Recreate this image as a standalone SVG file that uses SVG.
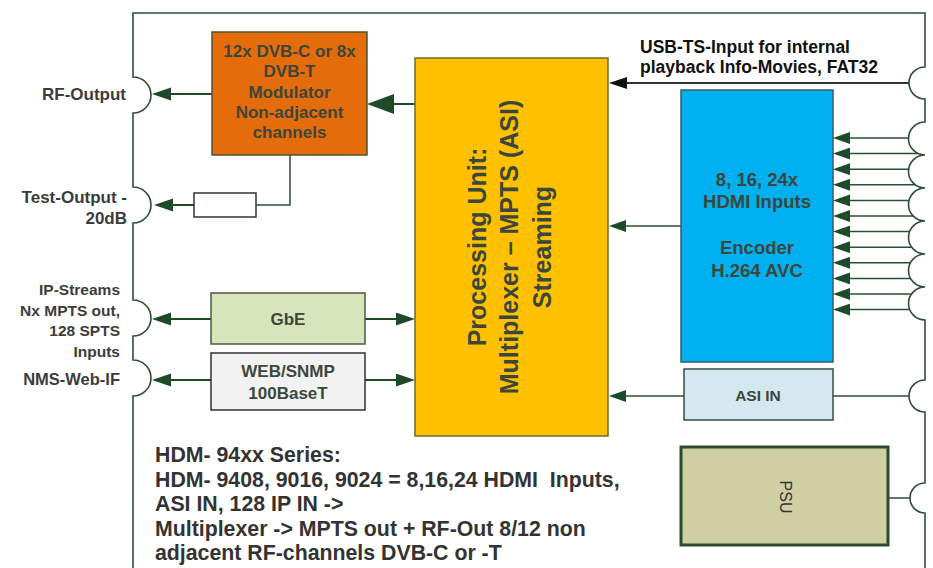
<svg xmlns="http://www.w3.org/2000/svg" width="933" height="568" viewBox="0 0 933 568">
<style>
text{font-family:"Liberation Sans",Arial,sans-serif;font-weight:bold;}
.lbl{font-size:16.5px;fill:#3c3c3c;text-anchor:end;}
.lbs{font-size:15.5px;fill:#3c3c3c;text-anchor:end;}
.box{font-size:17px;fill:#3b473b;text-anchor:middle;}
.pu{font-size:25px;fill:#3b473b;text-anchor:middle;}
.hd{font-size:18.5px;fill:#3b473b;text-anchor:middle;}
.note{font-size:21.3px;fill:#333;}
.frame{fill:none;stroke:#2c4f34;stroke-width:1.6;}
.wire{fill:none;stroke:#1f4a2a;stroke-width:2;}
.thin{fill:none;stroke:#2c4f34;stroke-width:1.5;}
</style>
<defs>
<marker id="ah" markerUnits="userSpaceOnUse" markerWidth="20" markerHeight="14" refX="6" refY="6.5" orient="auto"><path d="M0,0 L19,6.5 L0,13 z" fill="#1f4a2a"/></marker>
<marker id="ahBig" markerUnits="userSpaceOnUse" markerWidth="28" markerHeight="20" refX="6" refY="10" orient="auto"><path d="M0,0 L27,10 L0,20 z" fill="#1f4a2a"/></marker>
<marker id="ahBlk" markerUnits="userSpaceOnUse" markerWidth="19" markerHeight="12" refX="6" refY="6" orient="auto"><path d="M0,0 L18,6 L0,12 z" fill="#111"/></marker>
<marker id="ahSm" markerUnits="userSpaceOnUse" markerWidth="18" markerHeight="12" refX="5" refY="6" orient="auto"><path d="M0,0 L17,6 L0,12 z" fill="#1f4a2a"/></marker>
</defs>
<rect width="933" height="568" fill="#fff"/>

<g id="frame">
<path class="frame" d="M133,568 V396 A18,18 0 0 0 133,360 V336 A18,18 0 0 0 133,300 V223 A18,18 0 0 0 133,187 V113 A18,18 0 0 0 133,77 V13 H925 V67 A16,16 0 0 0 925,99 V122 A16.5,16.5 0 0 0 925,155 A16.5,16.5 0 0 0 925,188 A16.5,16.5 0 0 0 925,221 A16.5,16.5 0 0 0 925,254 A16.5,16.5 0 0 0 925,287 A16.5,16.5 0 0 0 925,320 V380 A16,16 0 0 0 925,412 V483 A15,15 0 0 0 925,513 V568"/>
</g>

<g id="connectors">
<line class="wire" x1="212" y1="94" x2="165" y2="94" stroke-width="2.5" marker-end="url(#ah)"/>
<line class="wire" x1="415" y1="104" x2="388" y2="104" stroke-width="4.5" marker-end="url(#ahBig)"/>
<polyline class="thin" points="290,155 290,205 256,205" stroke="#222"/>
<line class="wire" x1="194" y1="205" x2="167" y2="205" stroke-width="2.5" marker-end="url(#ah)"/>
<line class="wire" x1="211" y1="319" x2="165" y2="319" marker-end="url(#ah)"/>
<line class="wire" x1="365" y1="319" x2="402" y2="319" marker-end="url(#ah)"/>
<line class="wire" x1="211" y1="380" x2="165" y2="380" marker-end="url(#ah)"/>
<line class="wire" x1="365" y1="380" x2="402" y2="380" marker-end="url(#ah)"/>
<line class="thin" x1="681" y1="226" x2="621" y2="226" marker-end="url(#ahSm)"/>
<line class="thin" x1="684" y1="396" x2="621" y2="396" marker-end="url(#ahSm)"/>
<line x1="909" y1="83" x2="621" y2="83" stroke="#333" stroke-width="2" marker-end="url(#ahBlk)"/>
<line class="thin" x1="833" y1="396" x2="909" y2="396"/>
<line class="thin" x1="888" y1="498" x2="910" y2="498" stroke-width="2"/>
<g class="thin">
<line x1="908.5" y1="138" x2="845" y2="138" marker-end="url(#ahSm)"/>
<line x1="918" y1="153.6" x2="845" y2="153.6" marker-end="url(#ahSm)"/>
<line x1="908.7" y1="169.2" x2="845" y2="169.2" marker-end="url(#ahSm)"/>
<line x1="915.2" y1="184.8" x2="845" y2="184.8" marker-end="url(#ahSm)"/>
<line x1="909" y1="200.4" x2="845" y2="200.4" marker-end="url(#ahSm)"/>
<line x1="913.2" y1="216" x2="845" y2="216" marker-end="url(#ahSm)"/>
<line x1="909.6" y1="231.6" x2="845" y2="231.6" marker-end="url(#ahSm)"/>
<line x1="911.6" y1="247.2" x2="845" y2="247.2" marker-end="url(#ahSm)"/>
<line x1="910.4" y1="262.8" x2="845" y2="262.8" marker-end="url(#ahSm)"/>
<line x1="910.5" y1="278.4" x2="845" y2="278.4" marker-end="url(#ahSm)"/>
<line x1="911.5" y1="294" x2="845" y2="294" marker-end="url(#ahSm)"/>
<line x1="909.7" y1="309.6" x2="845" y2="309.6" marker-end="url(#ahSm)"/>
</g>
</g>

<g id="labels">
<text class="lbl" x="126" y="100" style="font-size:17px">RF-Output</text>
<text class="lbl" x="127" y="203" style="font-size:17px">Test-Output -</text>
<text class="lbl" x="127" y="224" style="font-size:17px">20dB</text>
<text class="lbs" x="120" y="295">IP-Streams</text>
<text class="lbs" x="120" y="316">Nx MPTS out,</text>
<text class="lbs" x="120" y="336">128 SPTS</text>
<text class="lbs" x="120" y="357">Inputs</text>
<text class="lbl" x="120" y="385">NMS-Web-IF</text>
<text x="640" y="53" font-size="17.5" fill="#111">USB-TS-Input for internal</text>
<text x="640" y="73" font-size="17.5" fill="#111">playback Info-Movies, FAT32</text>
</g>

<g id="modulator">
<rect x="212" y="32" width="155" height="123" fill="#E46C0A" stroke="#4d5535" stroke-width="1.5"/>
<text class="box" x="289.5" y="57">12x DVB-C or 8x</text>
<text class="box" x="289.5" y="77">DVB-T</text>
<text class="box" x="289.5" y="98">Modulator</text>
<text class="box" x="289.5" y="118">Non-adjacent</text>
<text class="box" x="289.5" y="138">channels</text>
</g>

<g id="attenuator">
<rect x="194" y="193" width="62" height="24" fill="#fff" stroke="#333" stroke-width="1.5"/>
</g>

<g id="gbe">
<rect x="211" y="293" width="154" height="51" fill="#D7E4BC" stroke="#4a5a3a" stroke-width="1.5"/>
<text class="box" x="288" y="325">GbE</text>
</g>

<g id="web">
<rect x="211" y="353" width="154" height="57" fill="#F2F2F2" stroke="#333" stroke-width="1.5"/>
<text class="box" x="288" y="377">WEB/SNMP</text>
<text class="box" x="288" y="399">100BaseT</text>
</g>

<g id="processing">
<rect x="415" y="58" width="193" height="378" fill="#FFC000" stroke="#6b6b2f" stroke-width="1.5"/>
<g transform="translate(511,247) rotate(-90)">
<text class="pu" x="0" y="-25">Processing Unit:</text>
<text class="pu" x="0" y="7">Multiplexer – MPTS (ASI)</text>
<text class="pu" x="0" y="40">Streaming</text>
</g>
</g>

<g id="hdmi">
<rect x="681" y="90" width="152" height="272" fill="#00B0F0" stroke="#3a5a6a" stroke-width="1.5"/>
<text class="hd" x="757" y="186">8, 16, 24x</text>
<text class="hd" x="757" y="208">HDMI Inputs</text>
<text class="hd" x="757" y="254">Encoder</text>
<text class="hd" x="757" y="277">H.264 AVC</text>
</g>

<g id="asi">
<rect x="684" y="369" width="149" height="51" fill="#D4E9EF" stroke="#3a4a4a" stroke-width="1.5"/>
<text class="box" x="758" y="401" style="font-size:15.5px">ASI IN</text>
</g>

<g id="psu">
<rect x="681" y="447" width="207" height="98" fill="#CFCFA3" stroke="#2c4a2c" stroke-width="3"/>
<text transform="translate(785,497) rotate(90)" x="0" y="5.5" fill="#333" text-anchor="middle" style="font-size:16px;font-weight:normal">PSU</text>
</g>

<g id="note">
<text class="note" x="155" y="462">HDM- 94xx Series:</text>
<text class="note" x="155" y="487" xml:space="preserve">HDM- 9408, 9016, 9024 = 8,16,24 HDMI  Inputs,</text>
<text class="note" x="155" y="511">ASI IN, 128 IP IN -&gt;</text>
<text class="note" x="155" y="536">Multiplexer -&gt; MPTS out + RF-Out 8/12 non</text>
<text class="note" x="155" y="560">adjacent RF-channels DVB-C or -T</text>
</g>
</svg>
